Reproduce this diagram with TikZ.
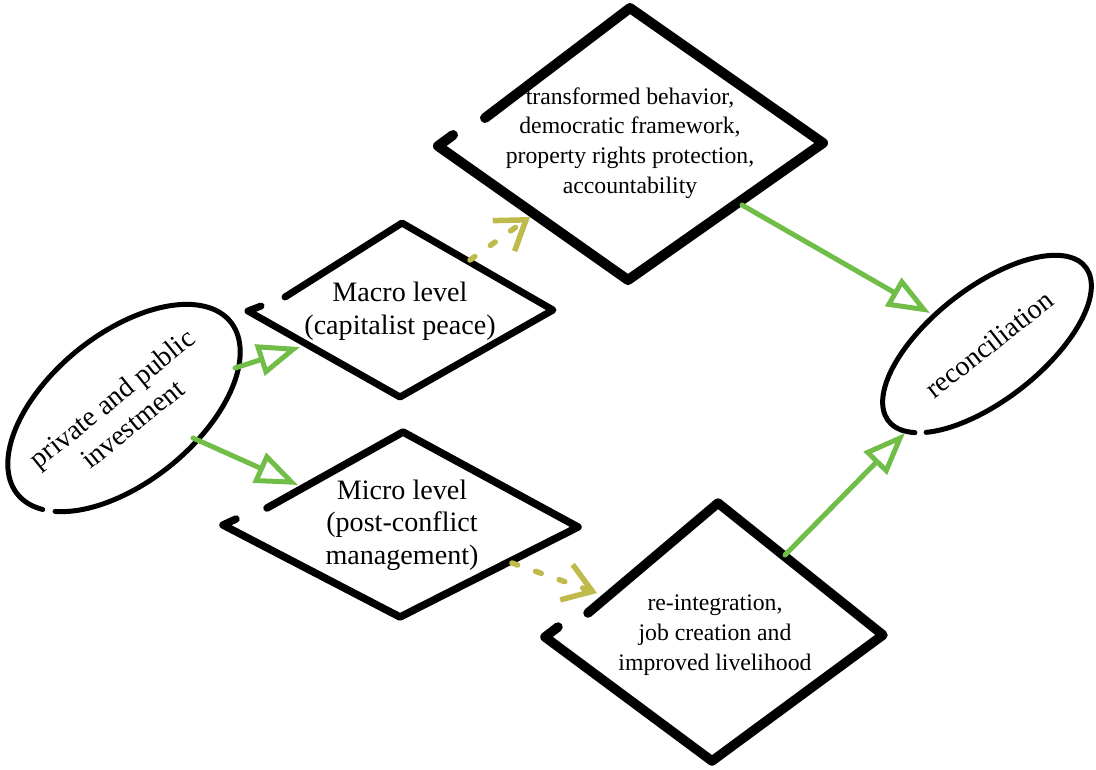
\documentclass[tikz,border=0pt]{standalone}
\usepackage{fontspec}
\setmainfont{Liberation Serif}
\usetikzlibrary{arrows.meta}

\definecolor{leafgreen}{RGB}{112,189,72}
\definecolor{mossy}{RGB}{190,186,75}

\begin{document}
\begin{tikzpicture}
  %[x=0.02cm,y=-0.02cm,every node/.style={align=center}]
  [x=0.02cm,y=-0.02cm,line cap=round,line join=round,
   every node/.style={align=center,inner sep=0pt},
   grn/.style={draw=leafgreen,line width=0.1cm,-{Triangle[open,length=0.85cm,width=0.64cm]}},
   dsh/.style={draw=mossy,line width=0.11cm,dash pattern=on 0.12cm off 0.38cm,-{Straight Barb[length=0.55cm,width=0.75cm]}}]
  \useasboundingbox (0,0) rectangle (1096,769);

  % diamonds, open at the left corner
  \draw[line width=0.2cm] (485,118) -- (630,8) -- (823,143) -- (628,280) -- (438,146) -- (453,135);
  \draw[line width=0.14cm] (285,297) -- (402,223) -- (553,310) -- (400,397) -- (248,311) -- (261,306);
  \draw[line width=0.15cm] (267,508) -- (403,432) -- (578,527) -- (400,617) -- (223,525) -- (236,519);
  \draw[line width=0.19cm] (588,613) -- (718,503) -- (883,635) -- (712,761) -- (545,637) -- (558,627);

  % ellipses
  \begin{scope}[shift={(124,408)},rotate=39]
    \draw[line width=0.1cm] (158:137 and 74) arc[start angle=158,end angle=510,x radius=137,y radius=74];
  \end{scope}
  \begin{scope}[shift={(987,344)},rotate=38]
    \draw[line width=0.1cm] (153:125 and 56) arc[start angle=153,end angle=505,x radius=125,y radius=56];
  \end{scope}

  \node (ni) at (122,411) [rotate=39,font=\fontsize{16}{18.5}\selectfont] {private and public\\investment};
  \node (nma) at (400,311) [font=\fontsize{16}{19}\selectfont] {Macro level\\(capitalist peace)};
  \node (nmi) at (402,525) [font=\fontsize{16}{18.5}\selectfont] {Micro level\\(post-conflict\\management)};
  \node (nt) at (630,143) [font=\fontsize{13.5}{17}\selectfont] {transformed behavior,\\democratic framework,\\property rights protection,\\accountability};
  \node (nr) at (715,635) [font=\fontsize{13.5}{17}\selectfont] {re-integration,\\job creation and\\improved livelihood};
  \node (nrc) at (989,344) [rotate=38,font=\fontsize{16}{18.5}\selectfont] {reconciliation};

  \coordinate (ni1) at (235,368);
  \coordinate (ni2) at (193,438);
  \coordinate (nma1) at (300,347);
  \coordinate (nma2) at (470,260);
  \coordinate (nmi1) at (298,485);
  \coordinate (nmi2) at (512,563);
  \coordinate (nt1) at (530,217);
  \coordinate (nt2) at (742,205);
  \coordinate (nr1) at (597,593);
  \coordinate (nr2) at (785,555);
  \coordinate (nrc1) at (930,313);
  \coordinate (nrc2) at (905,433);

  \path (ni1) edge[grn] (nma1);
  \path (ni2) edge[grn] (nmi1);
  \path (nma2) edge[dsh] (nt1);
  \path (nmi2) edge[dsh] (nr1);
  \path (nt2) edge[grn] (nrc1);
  \path (nr2) edge[grn] (nrc2);

\end{tikzpicture}
\end{document}
